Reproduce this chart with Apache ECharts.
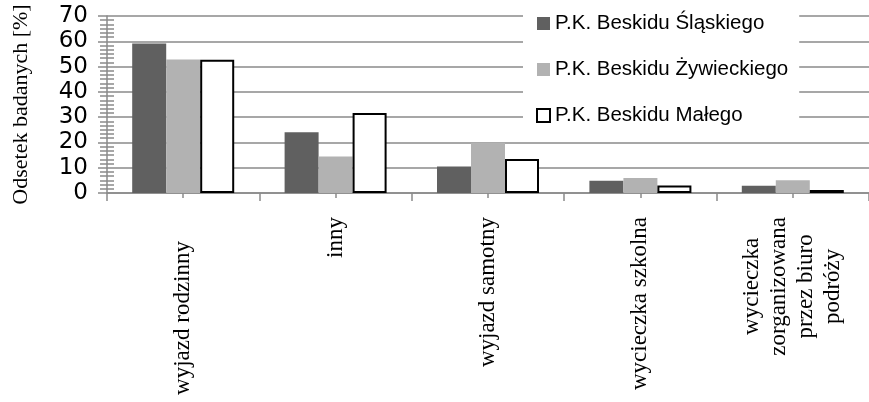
<!DOCTYPE html>
<html>
<head>
<meta charset="utf-8">
<script src="https://cdn.jsdelivr.net/npm/echarts@6/dist/echarts.min.js"></script>
<style>
  html, body { margin: 0; padding: 0; background: #fff; }
  #chart { width: 869px; height: 402px; }
</style>
</head>
<body>
<div id="chart"></div>
<script>
const categories = ['wyjazd rodzinny', 'inny', 'wyjazd samotny', 'wycieczka szkolna', 'wycieczka\nzorganizowana\nprzez biuro\npodróży'];
const seriesNames = ['P.K. Beskidu Śląskiego', 'P.K. Beskidu Żywieckiego', 'P.K. Beskidu Małego'];
const slaskiego = [59.1, 24.0, 10.5, 4.8, 2.9];
const zywieckiego = [52.8, 14.4, 19.9, 5.9, 5.0];
const malego = [52.7, 31.6, 13.4, 3.0, 1.2];
const yMin = 0, yMax = 70, yInterval = 10;
const yTitle = 'Odsetek badanych [%]';

const gridColor = '#8a8a8a';
const chart = echarts.init(document.getElementById('chart'), null, { renderer: 'canvas' });

function labelFormatter(value, index) {
  const lines = String(value).split('\n');
  if (index === 0) return '{first|' + lines.join('') + '}';
  return lines.map(l => '{c|' + l + '}').join('\n');
}

const labelStyle = { fontFamily: 'Liberation Serif', fontSize: 23, color: '#000' };

chart.setOption({
  animation: false,
  backgroundColor: '#fff',
  grid: { left: 107, top: 16, width: 764, height: 177, containLabel: false },
  legend: {
    data: seriesNames,
    orient: 'vertical',
    left: 523,
    top: 4,
    padding: [9, 11, 6, 13],
    itemWidth: 13,
    itemHeight: 13,
    itemGap: 25,
    icon: 'rect',
    backgroundColor: '#fff',
    textStyle: { fontFamily: 'Liberation Sans', fontSize: 20.5, color: '#000', lineHeight: 21 }
  },
  xAxis: [
    {
      type: 'category', data: categories, position: 'bottom',
      axisLine: { show: true, lineStyle: { color: gridColor, width: 1.5 } },
      axisTick: { show: true, length: 8, lineStyle: { color: gridColor, width: 1.5 } },
      axisLabel: {
        interval: 0, rotate: 90, margin: 24,
        formatter: labelFormatter,
        ...labelStyle,
        lineHeight: 27,
        rich: {
          first: { ...labelStyle, padding: [0, 24, 0, 0] },
          c: { ...labelStyle, align: 'center', lineHeight: 27 }
        }
      }
    },
    {
      type: 'category', data: categories, position: 'bottom',
      axisLine: { show: false },
      axisTick: { show: true, alignWithLabel: true, length: 5, lineStyle: { color: gridColor, width: 1.5 } },
      axisLabel: { show: false }, splitLine: { show: false }
    },
    {
      type: 'category', data: categories, position: 'bottom',
      axisLine: { show: false },
      axisTick: { show: true, inside: true, alignWithLabel: true, length: 5, lineStyle: { color: gridColor, width: 1.5 } },
      axisLabel: { show: false }, splitLine: { show: false }
    }
  ],
  yAxis: [
    {
      type: 'value', min: yMin, max: yMax, interval: yInterval, position: 'left',
      axisLine: { show: true, lineStyle: { color: gridColor, width: 1.5 } },
      axisTick: { show: true, length: 9, lineStyle: { color: gridColor, width: 1.5 } },
      minorTick: { show: true, splitNumber: 6, length: 7, lineStyle: { color: gridColor, width: 1.5 } },
      splitLine: { show: true, lineStyle: { color: gridColor, width: 1.5 } },
      axisLabel: { fontFamily: 'DejaVu Sans', fontSize: 23, color: '#000', margin: 19 },
      name: yTitle, nameLocation: 'middle', nameGap: 75,
      nameTextStyle: { fontFamily: 'Liberation Serif', fontSize: 22, color: '#000' }
    },
    {
      type: 'value', min: yMin, max: yMax, interval: yInterval, position: 'left',
      axisLine: { show: false },
      axisTick: { show: false, inside: true },
      minorTick: { show: true, splitNumber: 6, length: 7, lineStyle: { color: gridColor, width: 1.5 } },
      splitLine: { show: false },
      axisLabel: { show: false }
    }
  ],
  series: [
    { name: seriesNames[0], type: 'bar', data: slaskiego, xAxisIndex: 0, yAxisIndex: 0, barWidth: 34, barGap: '0%',
      itemStyle: { color: '#606060' } },
    { name: seriesNames[1], type: 'bar', data: zywieckiego, xAxisIndex: 0, yAxisIndex: 0, barWidth: 34, barGap: '0%',
      itemStyle: { color: '#b2b2b2' } },
    { name: seriesNames[2], type: 'bar', data: malego, xAxisIndex: 0, yAxisIndex: 0, barWidth: 34, barGap: '0%',
      itemStyle: { color: '#ffffff', borderColor: '#000', borderWidth: 2 } }
  ]
});
</script>
</body>
</html>
